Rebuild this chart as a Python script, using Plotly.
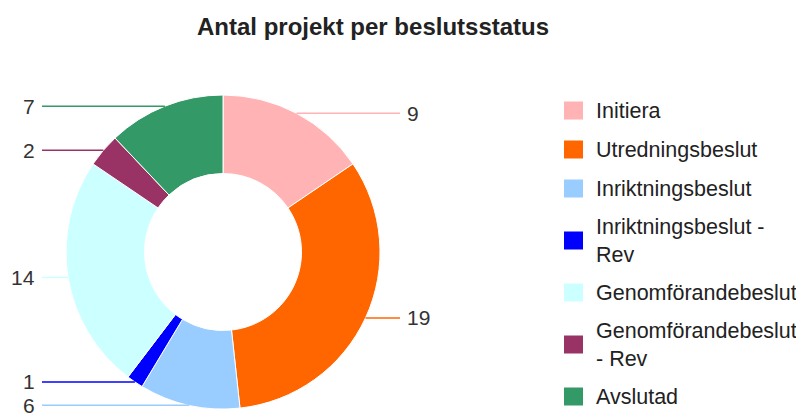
import math
import plotly.graph_objects as go

# ---- data ----
labels = ["Initiera", "Utredningsbeslut", "Inriktningsbeslut", "Inriktningsbeslut - Rev",
          "Genomförandebeslut", "Genomförandebeslut - Rev", "Avslutad"]
legend_text = ["Initiera", "Utredningsbeslut", "Inriktningsbeslut", "Inriktningsbeslut -<br>Rev",
               "Genomförandebeslut", "Genomförandebeslut<br>- Rev", "Avslutad"]
values = [9, 19, 6, 1, 14, 2, 7]
colors = ["#FFB3B5", "#FF6600", "#99CCFF", "#0000FF", "#CCFFFF", "#993366", "#339966"]
title = "Antal projekt per beslutsstatus"

# ---- layout constants (window pixels; page body has an 8px margin) ----
OFF = 8
W, H = 804 - OFF, 420 - OFF
CX, CY, R = 223, 252, 157
FONT = "Liberation Sans, Arial, sans-serif"


def px(x):
    return (x - OFF) / W


def py(y):
    return 1 - (y - OFF) / H


fig = go.Figure(go.Pie(
    labels=labels, values=values, sort=False, direction="clockwise", rotation=0,
    hole=0.5, textinfo="none", hoverinfo="label+value",
    marker=dict(colors=colors, line=dict(color="white", width=1)),
    domain=dict(x=[px(CX - R), px(CX + R)], y=[py(CY + R), py(CY - R)]),
    showlegend=False,
))

shapes = []
annotations = []

# leader lines + value labels computed from the data
total = sum(values)
cum = 0
for v, c in zip(values, colors):
    f = (cum + v / 2) / total
    cum += v
    th = 2 * math.pi * f
    ex = CX + R * math.sin(th)
    ey = CY - R * math.cos(th)
    if ex > CX:
        x_end, tx, anchor = 400, 405, "left"
    else:
        x_end, tx, anchor = 42, 37, "right"
    shapes.append(dict(type="line", xref="paper", yref="paper",
                       x0=px(ex), y0=py(ey), x1=px(x_end), y1=py(ey),
                       line=dict(color=c, width=1.5)))
    annotations.append(dict(xref="paper", yref="paper", x=px(tx), y=py(ey),
                            text=str(v), showarrow=False, xanchor=anchor, yanchor="middle",
                            font=dict(family=FONT, size=21, color="#333333")))

# manual legend
y_cur = 91
for t, c in zip(legend_text, colors):
    n = t.count("<br>") + 1
    h = 39 + 26 * (n - 1)
    yc = y_cur + h / 2
    shapes.append(dict(type="rect", xref="paper", yref="paper",
                       x0=px(564), x1=px(583), y0=py(yc - 9), y1=py(yc + 9),
                       fillcolor=c, line=dict(width=0)))
    annotations.append(dict(xref="paper", yref="paper", x=px(594), y=py(yc),
                            text=t, showarrow=False, xanchor="left", yanchor="middle",
                            align="left",
                            font=dict(family=FONT, size=21.5, color="#222222")))
    y_cur += h

annotations.append(dict(xref="paper", yref="paper", x=px(373), y=py(27),
                        text="<b>" + title + "</b>", showarrow=False,
                        xanchor="center", yanchor="middle",
                        font=dict(family=FONT, size=24, color="#222222")))

fig.update_layout(width=W, height=H, margin=dict(l=0, r=0, t=0, b=0),
                  paper_bgcolor="white", plot_bgcolor="white",
                  shapes=shapes, annotations=annotations)

fig.write_html("out.html")
